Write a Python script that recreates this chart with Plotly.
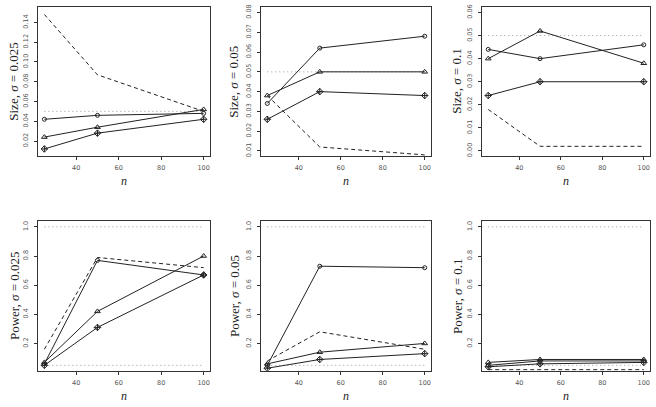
import plotly.graph_objects as go

n = [25, 50, 100]

size_0025_circ = [0.042, 0.046, 0.048]
size_0025_tri = [0.024, 0.034, 0.052]
size_0025_dia = [0.012, 0.028, 0.042]
size_0025_dash = [0.148, 0.087, 0.050]

size_005_circ = [0.034, 0.062, 0.068]
size_005_tri = [0.038, 0.050, 0.050]
size_005_dia = [0.026, 0.040, 0.038]
size_005_dash = [0.038, 0.012, 0.008]

size_01_circ = [0.044, 0.040, 0.046]
size_01_tri = [0.040, 0.052, 0.038]
size_01_dia = [0.024, 0.030, 0.030]
size_01_dash = [0.018, 0.002, 0.002]

power_0025_circ = [0.06, 0.77, 0.67]
power_0025_tri = [0.07, 0.42, 0.80]
power_0025_dia = [0.05, 0.31, 0.67]
power_0025_dash = [0.16, 0.79, 0.72]

power_005_circ = [0.05, 0.73, 0.72]
power_005_tri = [0.06, 0.14, 0.20]
power_005_dia = [0.03, 0.09, 0.13]
power_005_dash = [0.08, 0.28, 0.16]

power_01_circ = [0.05, 0.08, 0.08]
power_01_tri = [0.07, 0.09, 0.09]
power_01_dia = [0.04, 0.06, 0.07]
power_01_dash = [0.02, 0.02, 0.02]

nominal_size = [0.05]
power_refs = [0.05, 1.0]

x_ticks = [40, 60, 80, 100]
size_0025_ticks = [0.02, 0.04, 0.06, 0.08, 0.10, 0.12, 0.14]
size_005_ticks = [0.01, 0.02, 0.03, 0.04, 0.05, 0.06, 0.07, 0.08]
size_01_ticks = [0.00, 0.01, 0.02, 0.03, 0.04, 0.05, 0.06]
power_ticks = [0.2, 0.4, 0.6, 0.8, 1.0]

panels = [
    ("Size", "0.025", size_0025_circ, size_0025_tri, size_0025_dia, size_0025_dash, nominal_size, size_0025_ticks, [0.0044, 0.1556], ".2f"),
    ("Size", "0.05", size_005_circ, size_005_tri, size_005_dia, size_005_dash, nominal_size, size_005_ticks, [0.0072, 0.0828], ".2f"),
    ("Size", "0.1", size_01_circ, size_01_tri, size_01_dia, size_01_dash, nominal_size, size_01_ticks, [-0.0024, 0.0624], ".2f"),
    ("Power", "0.025", power_0025_circ, power_0025_tri, power_0025_dia, power_0025_dash, power_refs, power_ticks, [0.012, 1.038], ".1f"),
    ("Power", "0.05", power_005_circ, power_005_tri, power_005_dia, power_005_dash, power_refs, power_ticks, [0.012, 1.038], ".1f"),
    ("Power", "0.1", power_01_circ, power_01_tri, power_01_dia, power_01_dash, power_refs, power_ticks, [0.012, 1.038], ".1f"),
]

W, H = 656, 407
col_px = [(38, 210), (261, 431), (482, 650)]
row_px = [(4, 155), (220.5, 371.5)]
ylab_x = [14, 234, 457]
xlab_y = [180, 397]

fig = go.Figure()
line_col = "#222222"
axis_col = "#333333"
tick_font = dict(family="DejaVu Sans", size=6.5, color="#555555")

for i, (kind, sig, circ, tri, dia, dash, refs, yt, yr, fmt) in enumerate(panels):
    r, c = divmod(i, 3)
    k = "" if i == 0 else str(i + 1)
    xa, ya = "x" + k, "y" + k
    x0, x1 = col_px[c]
    y0, y1 = row_px[r]
    fig.layout["xaxis" + k] = dict(
        domain=[x0 / W, x1 / W], anchor=ya, range=[22, 103], tickvals=x_ticks,
        showline=True, mirror=True, linecolor=axis_col, linewidth=1,
        ticks="outside", ticklen=3, tickcolor=axis_col, tickfont=tick_font,
        ticklabelstandoff=2,
        showgrid=False, zeroline=False, fixedrange=True)
    fig.layout["yaxis" + k] = dict(
        domain=[1 - y1 / H, 1 - y0 / H], anchor=xa, range=yr, tickvals=yt,
        tickformat=fmt, tickangle=-90,
        showline=True, mirror=True, linecolor=axis_col, linewidth=1,
        ticks="outside", ticklen=3, tickcolor=axis_col, tickfont=tick_font,
        ticklabelstandoff=3,
        showgrid=False, zeroline=False, fixedrange=True)
    for ref in refs:
        fig.add_trace(go.Scatter(x=n, y=[ref] * len(n), mode="lines", xaxis=xa, yaxis=ya,
                                 line=dict(color="#999999", width=1, dash="1px,3px"), showlegend=False))
    fig.add_trace(go.Scatter(x=n, y=dash, mode="lines", xaxis=xa, yaxis=ya,
                             line=dict(color=line_col, width=1, dash="4px,3px"), showlegend=False))
    for vals, sym, sz in [(circ, "circle-open", 4), (tri, "triangle-up-open", 5), (dia, "diamond-cross-open", 5)]:
        fig.add_trace(go.Scatter(x=n, y=vals, mode="lines+markers", xaxis=xa, yaxis=ya,
                                 line=dict(color=line_col, width=1),
                                 marker=dict(symbol=sym, size=sz, color=line_col, line=dict(width=1, color=line_col)),
                                 showlegend=False))
    fig.add_annotation(text=f"{kind}, <i>σ</i> = {sig}", xref="paper", yref="paper",
                       x=ylab_x[c] / W, y=1 - (y0 + y1) / 2 / H, textangle=-90,
                       showarrow=False, font=dict(family="Liberation Serif", size=13, color="#222222"),
                       xanchor="center", yanchor="middle")
    fig.add_annotation(text="<i>n</i>", xref="paper", yref="paper",
                       x=(x0 + x1) / 2 / W, y=1 - xlab_y[r] / H, showarrow=False,
                       font=dict(family="Liberation Serif", size=12, color="#222222"),
                       xanchor="center", yanchor="middle")

fig.update_layout(width=W, height=H, margin=dict(l=0, r=0, t=0, b=0),
                  paper_bgcolor="white", plot_bgcolor="white")
fig.write_html("out.html")
